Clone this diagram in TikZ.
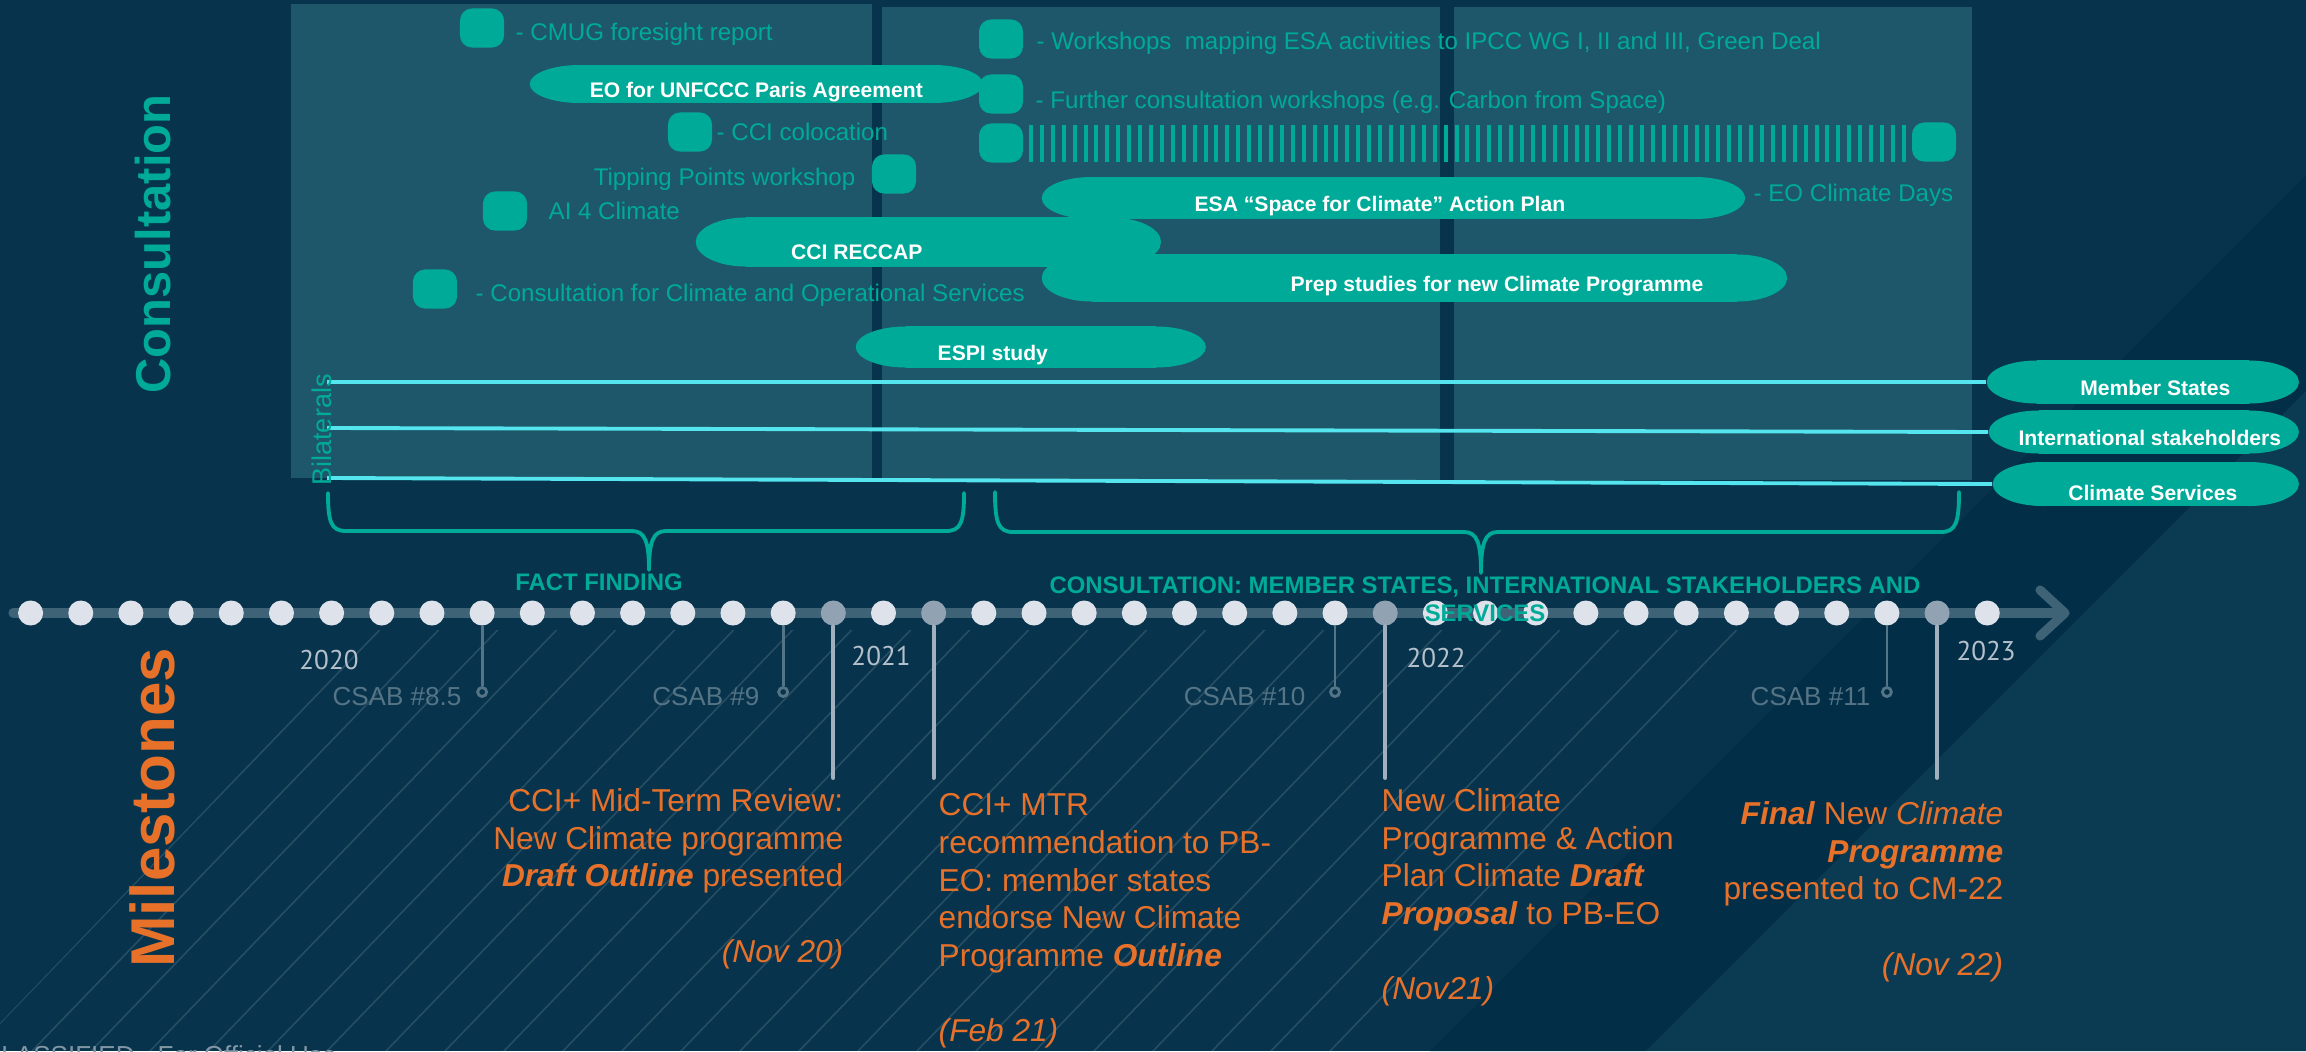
\documentclass[tikz,border=0pt]{standalone}
\usepackage{fontspec}
\setmainfont{Liberation Sans}
\newfontfamily\yearfont{PT Sans}
\usetikzlibrary{calc}

\definecolor{bgnavy}{RGB}{7,52,76}
\definecolor{bgdark}{RGB}{2,47,71}
\definecolor{bglight}{RGB}{11,59,83}
\definecolor{panelblue}{RGB}{30,87,106}
\definecolor{esateal}{RGB}{0,170,152}
\definecolor{linecyan}{RGB}{84,229,238}
\definecolor{msorange}{RGB}{232,113,42}
\definecolor{dotwhite}{RGB}{222,226,234}
\definecolor{dotgrey}{RGB}{145,163,178}
\definecolor{barblue}{RGB}{62,98,118}
\definecolor{csabgrey}{RGB}{85,116,134}
\definecolor{yeargrey}{RGB}{180,192,203}
\definecolor{stemgrey}{RGB}{160,176,190}
\definecolor{footgrey}{RGB}{130,150,165}

\tikzset{
  panel/.style={fill=panelblue},
  tile/.style={fill=esateal, rounded corners=1.2mm, inner sep=0pt, minimum width=0.44cm, minimum height=0.39cm},
  tiletext/.style={text=esateal, inner sep=0pt, font=\fontsize{6.85pt}{8.2pt}\selectfont},
  pill/.style 2 args={inner sep=0pt, minimum width=#1, minimum height=#2, text=white,
    text height=7.8pt, text depth=0pt,
    font=\fontsize{6pt}{7.2pt}\selectfont\bfseries,
    path picture={
      \fill[esateal] ([xshift=5mm]path picture bounding box.west) ellipse [x radius=5mm, y radius=#2/2];
      \fill[esateal] ([xshift=-5mm]path picture bounding box.east) ellipse [x radius=5mm, y radius=#2/2];
      \fill[esateal] ([xshift=5mm]path picture bounding box.north west) rectangle ([xshift=-5mm]path picture bounding box.south east);
    }},
  bilateral/.style={linecyan, line width=1.1pt},
  bar/.style={barblue, line width=2.6pt, line cap=round, line join=round},
  dot/.style={circle, fill=dotwhite, inner sep=0pt, minimum size=0.25cm},
  stem/.style={stemgrey, line width=1.1pt, line cap=round},
  csab/.style={csabgrey, line width=0.8pt},
  csabend/.style={circle, draw=csabgrey, line width=0.8pt, inner sep=0pt, minimum size=0.09cm},
  csabtext/.style={text=csabgrey, inner sep=0pt, font=\fontsize{7.4pt}{8.8pt}\selectfont},
  year/.style={text=yeargrey, inner sep=0pt, font=\yearfont\fontsize{7.7pt}{9pt}\selectfont},
  brace/.style={esateal, line width=1.1pt, line cap=round, line join=round},
  phase/.style={text=esateal, inner sep=0pt, align=center, font=\fontsize{6.8pt}{8pt}\selectfont\bfseries},
  milestone/.style={text=msorange, inner sep=0pt, font=\fontsize{9pt}{10.7pt}\selectfont},
  hatch/.style={white, opacity=0.13, line width=0.45pt},
}

\begin{document}
\begin{tikzpicture}[x=0.01cm, y=-0.01cm]
  % background
  \useasboundingbox (0,0) rectangle (2306,1051);
  \fill[bgnavy] (0,0) rectangle (2306,1051);
  \fill[bgdark] (1430,1051) -- (2306,175) -- (2306,391) -- (1646,1051) -- cycle;
  \fill[bglight] (1646,1051) -- (2306,391) -- (2306,1051) -- cycle;

  % hatching below the timeline
  \begin{scope}
    \clip (0,1023) -- (378,630) -- (1756,630) -- (1377,1051) -- (0,1051) -- cycle;
    \foreach \k in {0,...,30}
      \draw[hatch] ({-27+59*\k},1051) -- ++(450,-466);
  \end{scope}

  % panels
  \fill[panel] (291,4) rectangle (872,478);
  \fill[panel] (882,7) rectangle (1440,480);
  \fill[panel] (1454,7) rectangle (1972,480);

  % side titles
  \node[rotate=90, text=esateal, font=\fontsize{13.9pt}{16pt}\selectfont\bfseries] (consult) at (153,244) {Consultation};
  \node[rotate=90, text=msorange, font=\fontsize{17.6pt}{20pt}\selectfont\bfseries] (miles) at (152,808) {Milestones};

  % single events
  \node[tile] (cmug) at (482,28) {};
  \node[tiletext, anchor=west] (cmugtxt) at (515,34) {- CMUG foresight report};
  \node[tile] (coloc) at (690,132) {};
  \node[tiletext, anchor=west] (coloctxt) at (716,132) {- CCI colocation};
  \node[tile] (tipping) at (894,174) {};
  \node[tiletext, anchor=east] (tippingtxt) at (856,179) {Tipping Points workshop};
  \node[tile] (aiclim) at (505,211) {};
  \node[tiletext, anchor=west] (aiclimtxt) at (548,211) {AI 4 Climate};
  \node[tile] (opserv) at (435,289) {};
  \node[tiletext, anchor=west] (opservtxt) at (475,295) {- Consultation for Climate and Operational Services};
  \node[tile] (ipcc) at (1001,39) {};
  \node[tiletext, anchor=west] (ipcctxt) at (1036,43) {- Workshops\ \ mapping ESA activities to IPCC WG I, II and III, Green Deal};
  \node[tile] (further) at (1001,94) {};
  \node[tiletext, anchor=west] (furthertxt) at (1035,102) {- Further consultation workshops (e.g. Carbon from Space)};

  % EO climate days
  \node[tile] (daysstart) at (1001,143) {};
  \foreach \i in {0,...,80}
    \fill[esateal] ({1029+10.91*\i},125) rectangle +(4,37);
  \node[tile] (daysend) at (1934,142) {};
  \node[tiletext, anchor=west] (daystxt) at (1753,195) {- EO Climate Days};

  % studies
  \node[pill={4.53cm}{0.38cm}, anchor=west] (unfccc) at (529,84) {EO for UNFCCC Paris Agreement};
  \node[pill={7.03cm}{0.42cm}, anchor=west] (actionplan) at (1041,198) {\hspace*{-2.7mm}ESA “Space for Climate” Action Plan};
  \node[pill={4.65cm}{0.49cm}, anchor=west, text height=10.2pt] (reccap) at (695,242) {\hspace*{-14.3mm}CCI RECCAP};
  \node[pill={7.45cm}{0.47cm}, anchor=west] (prep) at (1041,278) {\hspace*{16.5mm}Prep studies for new Climate Programme};
  \node[pill={3.5cm}{0.41cm}, anchor=west] (espi) at (855,347) {\hspace*{-7.6mm}ESPI study};

  % bilaterals
  \coordinate (b1) at (327,382);
  \coordinate (b2) at (327,428);
  \coordinate (b3) at (327,478);
  \node[pill={3.12cm}{0.43cm}, anchor=west] (members) at (1986,382) {\hspace*{2.5mm}Member States};
  \node[pill={3.10cm}{0.43cm}, anchor=west] (intl) at (1988,432) {\hspace*{1.2mm}International stakeholders};
  \node[pill={3.06cm}{0.44cm}, anchor=west, text height=9.3pt] (services) at (1992,484) {\hspace*{1.4mm}Climate Services};
  \draw[bilateral] (b1) -- (members.west);
  \draw[bilateral] (b2) -- (intl.west);
  \draw[bilateral] (b3) -- (services.west);
  \node[rotate=90, text=esateal, inner sep=0pt, font=\fontsize{7.7pt}{9pt}\selectfont] (bilat) at (322,430) {Bilaterals};

  % phases
  \draw[brace] (328,493) .. controls (328,522) and (331,531) .. (346,531) -- (632,531)
    .. controls (645,531) and (649,542) .. (649,570) .. controls (649,542) and (653,531) .. (666,531)
    -- (946,531) .. controls (961,531) and (964,522) .. (964,493);
  \draw[brace] (995,492) .. controls (995,522) and (998,532) .. (1013,532) -- (1464,532)
    .. controls (1477,532) and (1481,543) .. (1481,573) .. controls (1481,543) and (1485,532) .. (1498,532)
    -- (1941,532) .. controls (1956,532) and (1959,522) .. (1959,492);

  % timeline
  \draw[bar] (13,613) -- (2060,613);
  \draw[bar] (2040,590) -- (2065,613) -- (2040,636);
  \foreach \i in {0,1,...,15,17,19,20,...,26,28,29,...,37,39}
    \node[dot] (d\i) at ({30.6+50.17*\i},613) {};
  \foreach \i in {16,18,27,38}
    \node[dot, fill=dotgrey] (d\i) at ({30.6+50.17*\i},613) {};

  \node[phase] (factfinding) at (599,582) {FACT FINDING};
  \node[phase] (consphase) at (1485,599) {CONSULTATION: MEMBER STATES, INTERNATIONAL STAKEHOLDERS AND\\SERVICES};

  % years
  \node[year] (y2020) at (329,660) {2020};
  \node[year] (y2021) at (881,656) {2021};
  \node[year] (y2022) at (1436,658) {2022};
  \node[year] (y2023) at (1986,651) {2023};

  % CSAB meetings
  \node[csabend] (csab85) at (d9 |- 0,692) {};
  \draw[csab] (d9) -- (csab85);
  \node[csabtext, anchor=east] (csab85txt) at (462,697) {CSAB \#8.5};
  \node[csabend] (csab9) at (d15 |- 0,692) {};
  \draw[csab] (d15) -- (csab9);
  \node[csabtext, anchor=east] (csab9txt) at (760,697) {CSAB \#9};
  \node[csabend] (csab10) at (d26 |- 0,692) {};
  \draw[csab] (d26) -- (csab10);
  \node[csabtext, anchor=east] (csab10txt) at (1306,697) {CSAB \#10};
  \node[csabend] (csab11) at (d37 |- 0,692) {};
  \draw[csab] (d37) -- (csab11);
  \node[csabtext, anchor=east] (csab11txt) at (1871,697) {CSAB \#11};

  % milestones
  \coordinate (m1) at (d16 |- 0,778);
  \coordinate (m2) at (d18 |- 0,778);
  \coordinate (m3) at (d27 |- 0,778);
  \coordinate (m4) at (d38 |- 0,778);
  \draw[stem] (d16) -- (m1);
  \draw[stem] (d18) -- (m2);
  \draw[stem] (d27) -- (m3);
  \draw[stem] (d38) -- (m4);

  \node[milestone, align=right, anchor=north east] (mtr) at (844,788)
    {CCI+ Mid-Term Review:\\New Climate programme\\\textbf{\textit{Draft Outline}} presented\\[10.7pt]\textit{(Nov 20)}};
  \node[milestone, align=left, anchor=north west] (mtrrec) at (938,793)
    {CCI+ MTR\\recommendation to PB-\\EO: member states\\endorse New Climate\\Programme \textbf{\textit{Outline}}\\[10.7pt]\textit{(Feb 21)}};
  \node[milestone, align=left, anchor=north west] (draft) at (1381,788)
    {New Climate\\Programme \& Action\\Plan Climate \textbf{\textit{Draft}}\\\textbf{\textit{Proposal}} to PB-EO\\[10.7pt]\textit{(Nov21)}};
  \node[milestone, align=right, anchor=north east] (final) at (2004,801)
    {\textbf{\textit{Final}} New \textit{Climate}\\\textbf{\textit{Programme}}\\presented to CM-22\\[10.7pt]\textit{(Nov 22)}};

  % footer
  \node[anchor=base west, text=footgrey, inner sep=0pt, font=\fontsize{7.4pt}{8.8pt}\selectfont] (classif) at (-18,1064) {CLASSIFIED - For Official Use};
\end{tikzpicture}
\end{document}
